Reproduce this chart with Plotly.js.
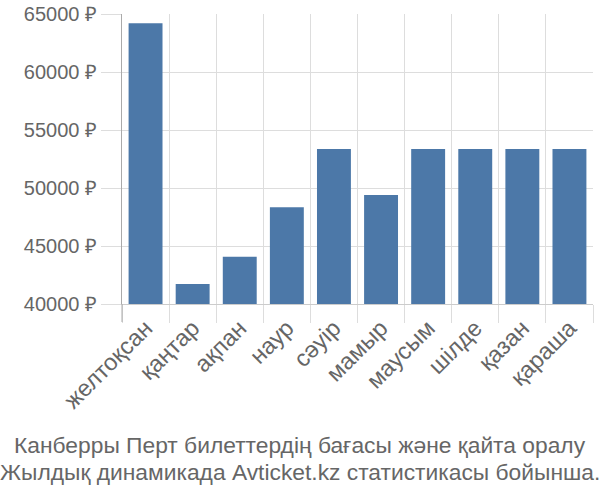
<!DOCTYPE html>
<html>
<head>
<meta charset="utf-8">
<script src="https://cdn.plot.ly/plotly-3.0.1.min.js"></script>
<style>html,body{margin:0;padding:0;background:#fff}#chart{width:600px;height:500px}</style>
</head>
<body>
<div id="chart"></div>
<script>
const months = ["желтоқсан","қаңтар","ақпан","наур","сәуір","мамыр","маусым","шілде","қазан","қараша"];
const prices = [64200, 41720, 44080, 48330, 53360, 49400, 53360, 53360, 53360, 53360];
const yTicks = [40000, 45000, 50000, 55000, 60000, 65000];
const yTickLabels = yTicks.map(v => v + " ₽");
const titleLines = ["Канберры Перт билеттердің бағасы және қайта оралу", "Жылдық динамикада Avticket.kz статистикасы бойынша."];

const font = "Liberation Sans, Arial, sans-serif";
const titleY = [-0.486, -0.579];
Plotly.newPlot("chart", [{
  type: "bar",
  x: months,
  y: prices,
  marker: {color: "#4c78a8", line: {width: 0}},
  hoverinfo: "none"
}], {
  width: 600, height: 500,
  margin: {l: 122, r: 7, t: 14, b: 196},
  paper_bgcolor: "#fff", plot_bgcolor: "#fff",
  bargap: 0.28,
  showlegend: false,
  font: {family: font, color: "#666", size: 20},
  xaxis: {
    type: "category",
    tickson: "boundaries",
    showgrid: true, gridcolor: "#ddd", gridwidth: 1,
    ticks: "outside", ticklen: 18, tickcolor: "#ddd", tickwidth: 1,
    tickangle: -45,
    tickfont: {family: font, size: 23.5, color: "#666"},
    showline: true, linecolor: "#ccc", linewidth: 1,
    zeroline: false
  },
  yaxis: {
    range: [40000, 65000],
    tickvals: yTicks, ticktext: yTickLabels,
    showgrid: true, gridcolor: "#ddd", gridwidth: 1,
    ticks: "outside", ticklen: 20, tickcolor: "#ddd", tickwidth: 1,
    tickfont: {family: font, size: 20, color: "#666"},
    showline: true, linecolor: "#aaa", linewidth: 1,
    zeroline: false
  },
  shapes: [{
    type: "line", xref: "paper", yref: "paper",
    x0: 0, x1: 0, y0: 0, y1: -18/290,
    line: {color: "#aaa", width: 1}
  }],
  annotations: titleLines.map((t, i) => ({
    text: t, showarrow: false,
    xref: "paper", yref: "paper",
    x: (300 - 122) / 471, xanchor: "center",
    y: titleY[i], yanchor: "middle",
    font: {family: font, size: 22.8, color: "#666"}
  }))
}, {displayModeBar: false, staticPlot: true});
</script>
</body>
</html>
